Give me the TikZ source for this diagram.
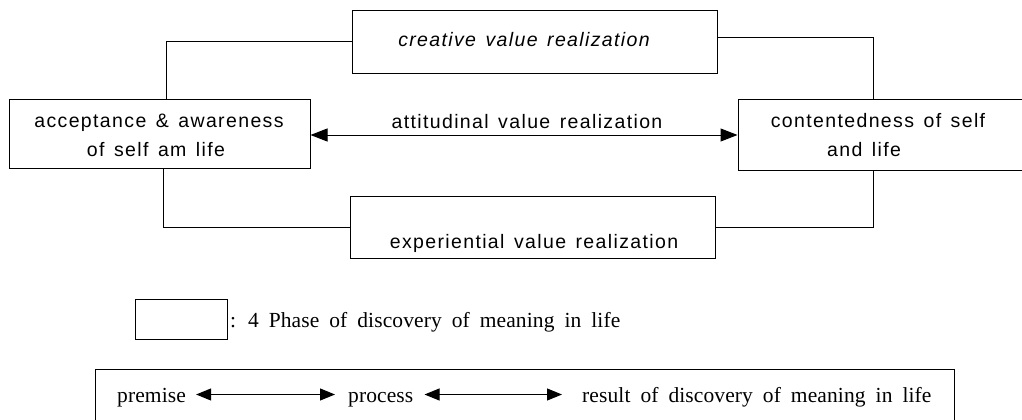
\documentclass[tikz,border=0pt]{standalone}
\usepackage{fontspec}
\newfontfamily\sansf[LetterSpace=7]{Liberation Sans}
\newfontfamily\seriff[LetterSpace=0.5]{Liberation Serif}
\usetikzlibrary{arrows.meta}
\newcommand\stfont{\sansf\fontsize{19.5}{23}\selectfont\spaceskip 9.5pt\relax}
\newcommand\sitfont{\sansf\itshape\fontsize{19.5}{23}\selectfont\spaceskip 9.5pt\relax}
\newcommand\rtfont{\seriff\fontsize{21.5}{25}\selectfont\spaceskip 10pt\relax}
\tikzset{
  phase/.style={draw, line width=1pt, inner sep=0pt},
  stxt/.style={font=\stfont, anchor=base, inner sep=0pt},
  rtxt/.style={font=\rtfont, anchor=base west, inner sep=0pt, text height=15pt, text depth=4pt},
  link/.style={line width=1pt},
  bigarrow/.style={line width=1pt, {Triangle[length=17pt,width=13pt]}-{Triangle[length=17pt,width=13pt]}},
  smallarrow/.style={line width=1pt, {Triangle[length=15pt,width=12pt]}-{Triangle[length=15pt,width=12pt]}},
}
\begin{document}
\begin{tikzpicture}[x=1pt,y=-1pt]
\useasboundingbox (0,0) rectangle (1022,420);
\clip (0,0) rectangle (1022,420);
\fill[white] (0,0) rectangle (1022,420);
% phase boxes
\node[phase, minimum width=365pt, minimum height=62pt] (cre) at (534.5,42) {};
\node[phase, minimum width=301pt, minimum height=69pt] (acc) at (159.5,133.5) {};
\node[phase, minimum width=292pt, minimum height=71pt] (con) at (884,134.5) {};
\node[phase, minimum width=365pt, minimum height=62pt] (exp) at (532.5,227) {};
% texts
\node[stxt, font=\sitfont] (cret) at (524,47) {creative value realization};
\node[stxt] (attt) at (527,128) {attitudinal value realization};
\node[stxt] (acct1) at (159,127) {acceptance \& awareness};
\node[stxt] (acct2) at (156,156) {of self am life};
\node[stxt] (cont1) at (878,127) {contentedness of self};
\node[stxt] (cont2) at (864,156) {and life};
\node[stxt] (expt) at (534,248) {experiential value realization};
% connectors
\draw[link] ([xshift=6.5pt]acc.north) |- (cre.west);
\draw[link] ([yshift=4pt]cre.east) -| ([xshift=-11pt]con.north);
\draw[link] ([xshift=4pt]acc.south) |- (exp.west);
\draw[link] (exp.east) -| ([xshift=-11pt]con.south);
\draw[bigarrow] ([yshift=-1.5pt]acc.east) -- ([yshift=-1.5pt]acc.east -| con.west);
% legend
\node[phase, minimum width=92pt, minimum height=40pt] (leg) at (181,319) {};
\node[rtxt] (legt) at (230,327) {: 4 Phase of discovery of meaning in life};
% bottom box
\node[phase, minimum width=859pt, minimum height=62pt] (bot) at (524.5,400) {};
\node[rtxt] (prem) at (117,402) {premise};
\node[rtxt] (proc) at (348,402) {process};
\node[rtxt] (res) at (582,402) {result of discovery of meaning in life};
\draw[smallarrow] ([xshift=10pt,yshift=2pt]prem.east) -- ([xshift=-13pt,yshift=2pt]proc.west);
\draw[smallarrow] ([xshift=11pt,yshift=2pt]proc.east) -- ([xshift=-20pt,yshift=2pt]res.west);
\end{tikzpicture}
\end{document}
